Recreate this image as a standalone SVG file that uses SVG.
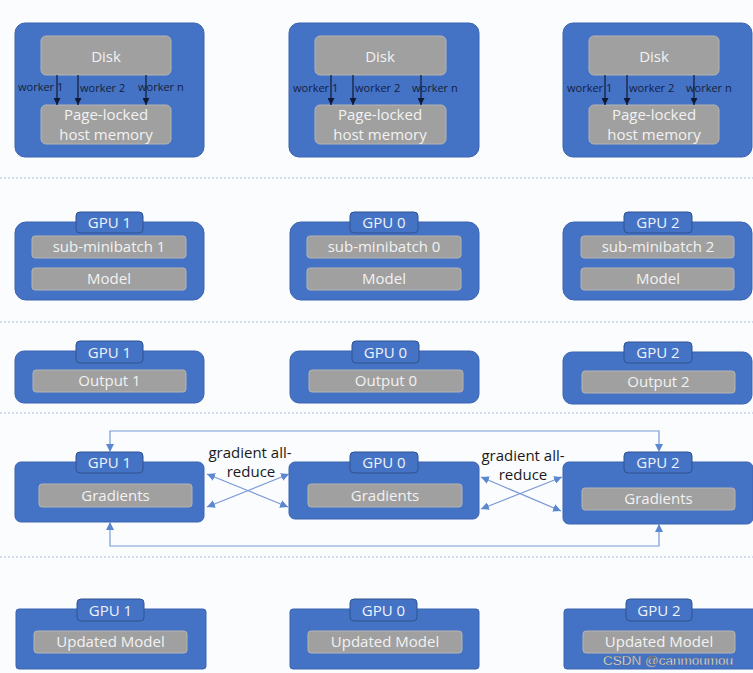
<svg xmlns="http://www.w3.org/2000/svg" width="753" height="673" viewBox="0 0 753 673">
<defs>
<marker id="ab" viewBox="0 0 10 10" refX="10" refY="5" markerWidth="7" markerHeight="7" orient="auto-start-reverse" markerUnits="userSpaceOnUse"><path d="M0,0 L10,5 L0,10 z" fill="#111a33"/></marker>
<marker id="al" viewBox="0 0 10 10" refX="10" refY="5" markerWidth="8" markerHeight="8" orient="auto-start-reverse" markerUnits="userSpaceOnUse"><path d="M0,0 L10,5 L0,10 z" fill="#5b86d0"/></marker>
<style>
.box{fill:#4472c4;stroke:#3a64b0;stroke-width:1}
.tab{fill:#4472c4;stroke:#2f528f;stroke-width:1}
.bar{fill:#a0a0a0;stroke:#b4b4b4;stroke-width:1}
.t{font-family:"Open Sans","Noto Sans",sans-serif;font-size:15px;fill:#f2f2f2;text-anchor:middle}
.tt{font-family:"Open Sans","Noto Sans",sans-serif;font-size:15px;fill:#eef3fb;text-anchor:middle}
.w{font-family:"Open Sans","Noto Sans",sans-serif;font-size:11px;fill:#14213f}
.g{font-family:"Open Sans","Noto Sans",sans-serif;font-size:15px;fill:#1a1a1a;text-anchor:middle}
.sep{stroke:#aabcdb;stroke-width:1.2;stroke-dasharray:2 2;fill:none}
.wa{stroke:#111a33;stroke-width:1.2;fill:none;marker-end:url(#ab)}
.ga{stroke:#7a9ad6;stroke-width:1.2;fill:none}
</style>
</defs>
<rect x="0" y="0" width="753" height="673" fill="#fbfcfe"/>
<g id="separators">
<line class="sep" x1="0" y1="178" x2="753" y2="178"/>
<line class="sep" x1="0" y1="322" x2="753" y2="322"/>
<line class="sep" x1="0" y1="413" x2="753" y2="413"/>
<line class="sep" x1="0" y1="557" x2="753" y2="557"/>
</g>

<!-- Row 1 -->
<g id="host1">
<rect class="box" x="15" y="23" width="189" height="134" rx="10"/>
<rect class="bar" x="41" y="36" width="130" height="39" rx="5"/>
<text class="t" x="106" y="62">Disk</text>
<rect class="bar" x="41" y="105" width="130" height="39" rx="5"/>
<text class="t" x="106" y="120">Page-locked</text>
<text class="t" x="106" y="140">host memory</text>
</g>
<g id="host0">
<rect class="box" x="289" y="23" width="190" height="134" rx="10"/>
<rect class="bar" x="315" y="36" width="131" height="39" rx="5"/>
<text class="t" x="380" y="62">Disk</text>
<rect class="bar" x="315" y="105" width="131" height="39" rx="5"/>
<text class="t" x="380" y="120">Page-locked</text>
<text class="t" x="380" y="140">host memory</text>
</g>
<g id="host2">
<rect class="box" x="563" y="23" width="189" height="134" rx="10"/>
<rect class="bar" x="589" y="36" width="130" height="39" rx="5"/>
<text class="t" x="654" y="62">Disk</text>
<rect class="bar" x="589" y="105" width="130" height="39" rx="5"/>
<text class="t" x="654" y="120">Page-locked</text>
<text class="t" x="654" y="140">host memory</text>
</g>

<!-- Row 2 -->
<g id="gpu1-load">
<rect class="box" x="15" y="222" width="189" height="78" rx="11"/>
<rect class="tab" x="76" y="212" width="67" height="21" rx="4"/>
<text class="tt" x="109.5" y="228">GPU 1</text>
<rect class="bar" x="32" y="236" width="154" height="22" rx="3"/>
<text class="t" x="109" y="252">sub-minibatch 1</text>
<rect class="bar" x="32" y="268" width="154" height="22" rx="3"/>
<text class="t" x="109" y="284">Model</text>
</g>
<g id="gpu0-load">
<rect class="box" x="290" y="222" width="189" height="78" rx="11"/>
<rect class="tab" x="350" y="212" width="68" height="21" rx="4"/>
<text class="tt" x="384" y="228">GPU 0</text>
<rect class="bar" x="307" y="236" width="154" height="22" rx="3"/>
<text class="t" x="384" y="252">sub-minibatch 0</text>
<rect class="bar" x="307" y="268" width="154" height="22" rx="3"/>
<text class="t" x="384" y="284">Model</text>
</g>
<g id="gpu2-load">
<rect class="box" x="563" y="222" width="189" height="78" rx="11"/>
<rect class="tab" x="624" y="212" width="68" height="21" rx="4"/>
<text class="tt" x="658" y="228">GPU 2</text>
<rect class="bar" x="581" y="236" width="153" height="22" rx="3"/>
<text class="t" x="658" y="252">sub-minibatch 2</text>
<rect class="bar" x="581" y="268" width="153" height="22" rx="3"/>
<text class="t" x="658" y="284">Model</text>
</g>

<!-- Row 3 -->
<g id="gpu1-out">
<rect class="box" x="15" y="351" width="189" height="52" rx="9"/>
<rect class="tab" x="76" y="341" width="67" height="22" rx="4"/>
<text class="tt" x="109.5" y="358">GPU 1</text>
<rect class="bar" x="33" y="370" width="153" height="22" rx="3"/>
<text class="t" x="109.5" y="386">Output 1</text>
</g>
<g id="gpu0-out">
<rect class="box" x="290" y="351" width="189" height="52" rx="9"/>
<rect class="tab" x="352" y="341" width="67" height="22" rx="4"/>
<text class="tt" x="385.5" y="358">GPU 0</text>
<rect class="bar" x="309" y="370" width="154" height="22" rx="3"/>
<text class="t" x="386" y="386">Output 0</text>
</g>
<g id="gpu2-out">
<rect class="box" x="563" y="352" width="189" height="52" rx="9"/>
<rect class="tab" x="624" y="342" width="68" height="21" rx="4"/>
<text class="tt" x="658" y="358">GPU 2</text>
<rect class="bar" x="582" y="371" width="153" height="22" rx="3"/>
<text class="t" x="658.5" y="387">Output 2</text>
</g>

<!-- Row 4 -->
<g id="gpu1-grad">
<rect class="box" x="15" y="462" width="189" height="60" rx="6"/>
<rect class="tab" x="76" y="452" width="67" height="21" rx="4"/>
<text class="tt" x="109.5" y="468">GPU 1</text>
<rect class="bar" x="39" y="484" width="153" height="23" rx="3"/>
<text class="t" x="115.5" y="501">Gradients</text>
</g>
<g id="gpu0-grad">
<rect class="box" x="289" y="462" width="190" height="57" rx="6"/>
<rect class="tab" x="350" y="452" width="68" height="21" rx="4"/>
<text class="tt" x="384" y="468">GPU 0</text>
<rect class="bar" x="308" y="484" width="154" height="23" rx="3"/>
<text class="t" x="385" y="501">Gradients</text>
</g>
<g id="gpu2-grad">
<rect class="box" x="563" y="462" width="190" height="62" rx="6"/>
<rect class="tab" x="624" y="452" width="68" height="21" rx="4"/>
<text class="tt" x="658" y="468">GPU 2</text>
<rect class="bar" x="582" y="488" width="153" height="22" rx="3"/>
<text class="t" x="658.5" y="504">Gradients</text>
</g>

<!-- Row 5 -->
<g id="gpu1-upd">
<rect class="box" x="16" y="609" width="190" height="60" rx="3"/>
<rect class="tab" x="77" y="599" width="67" height="22" rx="4"/>
<text class="tt" x="110.5" y="616">GPU 1</text>
<rect class="bar" x="34" y="631" width="153" height="22" rx="3"/>
<text class="t" x="110.5" y="647">Updated Model</text>
</g>
<g id="gpu0-upd">
<rect class="box" x="290" y="609" width="189" height="60" rx="3"/>
<rect class="tab" x="350" y="599" width="67" height="22" rx="4"/>
<text class="tt" x="383.5" y="616">GPU 0</text>
<rect class="bar" x="308" y="631" width="154" height="22" rx="3"/>
<text class="t" x="385" y="647">Updated Model</text>
</g>
<g id="gpu2-upd">
<rect class="box" x="564" y="609" width="192" height="60" rx="3"/>
<rect class="tab" x="626" y="599" width="66" height="22" rx="4"/>
<text class="tt" x="659" y="616">GPU 2</text>
<rect class="bar" x="583" y="631" width="152" height="22" rx="3"/>
<text class="t" x="659" y="647">Updated Model</text>
</g>

<g id="connectors">
<!-- worker arrows -->
<line class="wa" x1="57" y1="75" x2="57" y2="105"/>
<line class="wa" x1="78" y1="75" x2="78" y2="105"/>
<line class="wa" x1="146" y1="75" x2="146" y2="105"/>
<line class="wa" x1="331" y1="75" x2="331" y2="105"/>
<line class="wa" x1="353" y1="75" x2="353" y2="105"/>
<line class="wa" x1="421" y1="75" x2="421" y2="105"/>
<line class="wa" x1="605" y1="75" x2="605" y2="105"/>
<line class="wa" x1="627" y1="75" x2="627" y2="105"/>
<line class="wa" x1="694" y1="75" x2="694" y2="105"/>
<!-- gradient all-reduce -->
<polyline class="ga" points="110,452 110,431 659,431 659,452" marker-start="url(#al)" marker-end="url(#al)"/>
<polyline class="ga" points="110,522 110,546 659,546 659,524" marker-start="url(#al)" marker-end="url(#al)"/>
<line class="ga" x1="207" y1="474" x2="288" y2="507" marker-start="url(#al)" marker-end="url(#al)"/>
<line class="ga" x1="207" y1="507" x2="289" y2="474" marker-start="url(#al)" marker-end="url(#al)"/>
<line class="ga" x1="481" y1="477" x2="561" y2="511" marker-start="url(#al)" marker-end="url(#al)"/>
<line class="ga" x1="481" y1="509" x2="562" y2="477" marker-start="url(#al)" marker-end="url(#al)"/>
</g>

<g id="labels">
<text class="w" x="18" y="91">worker 1</text>
<text class="w" x="80" y="92">worker 2</text>
<text class="w" x="138" y="91">worker n</text>
<text class="w" x="293" y="92">worker 1</text>
<text class="w" x="355" y="92">worker 2</text>
<text class="w" x="412" y="92">worker n</text>
<text class="w" x="567" y="92">worker 1</text>
<text class="w" x="629" y="92">worker 2</text>
<text class="w" x="686" y="92">worker n</text>
<text class="g" x="250" y="458">gradient all-</text>
<text class="g" x="251" y="477">reduce</text>
<text class="g" x="523" y="461">gradient all-</text>
<text class="g" x="523" y="480">reduce</text>
<text x="603" y="665" font-family="'Liberation Sans',Arial,sans-serif" font-size="13.5" fill="#ffffff" stroke="#5a5a5a" stroke-width="0.4">CSDN @canmoumou</text>
</g>
</svg>
